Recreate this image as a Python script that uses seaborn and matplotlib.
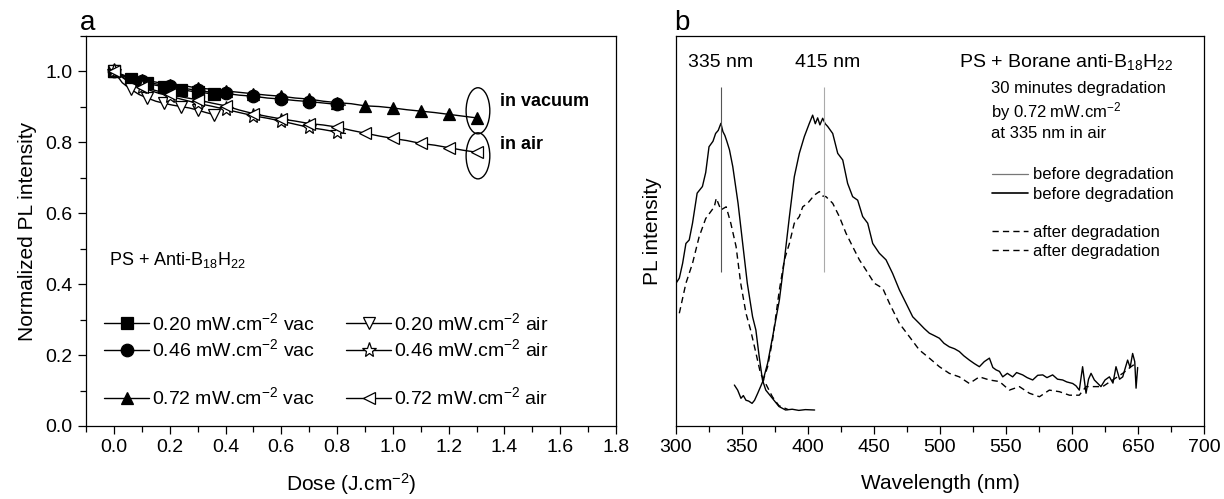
import numpy as np
import pandas as pd
import matplotlib
matplotlib.use("Agg")
import matplotlib.pyplot as plt
from matplotlib.lines import Line2D
from matplotlib.patches import Ellipse
import seaborn as sns

# ---------------- data : panel a ----------------
dose_020 = [0.00, 0.03, 0.06, 0.09, 0.12, 0.15, 0.18, 0.21, 0.24, 0.27, 0.30, 0.33, 0.36]
vac_020 = [1.000, 0.988, 0.978, 0.971, 0.966, 0.961, 0.957, 0.953, 0.949, 0.945, 0.942, 0.939, 0.936]
air_020 = [1.000, 0.968, 0.950, 0.935, 0.925, 0.916, 0.910, 0.905, 0.901, 0.897, 0.891, 0.884, 0.878]

dose_046 = [0.00, 0.05, 0.10, 0.15, 0.20, 0.25, 0.30, 0.35, 0.40, 0.45, 0.50, 0.55, 0.60,
            0.65, 0.70, 0.75, 0.80, 0.83]
vac_046 = [1.000, 0.983, 0.973, 0.965, 0.958, 0.952, 0.947, 0.941, 0.938, 0.933, 0.930, 0.925,
           0.922, 0.918, 0.915, 0.911, 0.907, 0.905]
air_046 = [1.000, 0.972, 0.955, 0.941, 0.930, 0.920, 0.910, 0.902, 0.893, 0.884, 0.875, 0.868,
           0.860, 0.851, 0.842, 0.836, 0.829, 0.825]

dose_072 = [0.00, 0.05, 0.10, 0.15, 0.20, 0.25, 0.30, 0.35, 0.40, 0.45, 0.50, 0.55, 0.60, 0.65,
            0.70, 0.75, 0.80, 0.85, 0.90, 0.95, 1.00, 1.05, 1.10, 1.15, 1.20, 1.25, 1.30]
vac_072 = [1.000, 0.985, 0.976, 0.970, 0.962, 0.960, 0.953, 0.950, 0.945, 0.941, 0.937, 0.933,
           0.930, 0.925, 0.922, 0.916, 0.912, 0.909, 0.903, 0.901, 0.897, 0.892, 0.888, 0.884,
           0.879, 0.874, 0.869]
air_072 = [1.000, 0.975, 0.957, 0.946, 0.936, 0.927, 0.920, 0.911, 0.903, 0.891, 0.881, 0.873,
           0.866, 0.860, 0.853, 0.849, 0.843, 0.834, 0.826, 0.818, 0.811, 0.805, 0.797, 0.792,
           0.785, 0.778, 0.772]

labels_a = ["0.20 mW.cm$^{-2}$ vac", "0.46 mW.cm$^{-2}$ vac", "0.72 mW.cm$^{-2}$ vac",
            "0.20 mW.cm$^{-2}$ air", "0.46 mW.cm$^{-2}$ air", "0.72 mW.cm$^{-2}$ air"]

# ---------------- data : panel b ----------------
exc_before_wl = [300, 302.5, 305, 307.5, 310, 312.5, 316, 320, 322.5, 325, 328, 330, 332, 334,
                 335.5, 337, 338.5, 340.5, 343, 347, 350.5, 354, 358, 360.5, 363, 365.5, 368,
                 373, 378, 383, 388, 393, 398, 405]
exc_before = [0.366, 0.379, 0.417, 0.468, 0.477, 0.520, 0.597, 0.614, 0.650, 0.716, 0.730,
              0.750, 0.758, 0.776, 0.755, 0.745, 0.730, 0.708, 0.665, 0.571, 0.468, 0.366,
              0.280, 0.246, 0.178, 0.118, 0.092, 0.071, 0.050, 0.041, 0.043, 0.040, 0.042, 0.041]

exc_after_wl = [302.5, 307.5, 312.5, 317.5, 322.5, 329, 330.5, 334, 338, 341.5, 345.5, 349,
                353, 356.5, 360, 364, 366.5, 373, 378, 385]
exc_after = [0.289, 0.366, 0.417, 0.485, 0.532, 0.562, 0.584, 0.554, 0.562, 0.520, 0.460,
             0.366, 0.289, 0.246, 0.195, 0.135, 0.118, 0.075, 0.052, 0.042]

em_before_wl = [344.2, 346.7, 349.2, 351, 353, 355, 357.6, 359.5, 361.9, 365.7, 369.4, 373.2,
                378.3, 382.1, 385.9, 389.6, 393.4, 397.2, 401, 403.5, 405.5, 407.3, 409, 411.1,
                413, 414.9, 418.7, 422.5, 426.3, 430, 433.8, 437.6, 441.4, 445.2, 449, 454,
                459.1, 464.1, 469.2, 474.2, 479.3, 484.3, 488, 491.9, 495.5, 499.5, 503, 507,
                511, 514.6, 518, 522.2, 526, 529.8, 533.5, 537.4, 540, 542.4, 545, 547.5, 551,
                555, 558, 562.6, 566, 570.2, 574, 577.8, 581, 585.3, 589, 592.9, 596, 600.5,
                603, 605.5, 608, 610.6, 612.5, 614.4, 616.9, 621.9, 625, 628.3, 631, 633.3,
                636, 638.4, 640, 642.1, 644, 645.9, 647.5, 648.5, 649.7]
em_before = [0.105, 0.092, 0.071, 0.078, 0.066, 0.064, 0.058, 0.066, 0.084, 0.114, 0.161, 0.229,
             0.323, 0.426, 0.537, 0.639, 0.699, 0.742, 0.776, 0.797, 0.775, 0.790, 0.772, 0.789,
             0.775, 0.768, 0.750, 0.699, 0.682, 0.622, 0.588, 0.579, 0.537, 0.520, 0.468, 0.443,
             0.426, 0.391, 0.349, 0.315, 0.280, 0.263, 0.250, 0.238, 0.232, 0.225, 0.212, 0.203,
             0.198, 0.191, 0.180, 0.169, 0.160, 0.152, 0.165, 0.174, 0.150, 0.144, 0.140, 0.126,
             0.135, 0.126, 0.137, 0.131, 0.124, 0.118, 0.130, 0.131, 0.124, 0.131, 0.120, 0.118,
             0.113, 0.109, 0.103, 0.092, 0.152, 0.084, 0.120, 0.135, 0.118, 0.101, 0.118, 0.126,
             0.110, 0.152, 0.120, 0.126, 0.145, 0.169, 0.150, 0.186, 0.165, 0.097, 0.150]

em_after_wl = [365.7, 369.4, 373.2, 378.3, 382.1, 385.9, 389.6, 393.4, 396, 399.7, 404.8, 408.6,
               411, 413.6, 418.7, 423.7, 428.8, 433.8, 438.9, 443.9, 450.2, 456.6, 461.6, 469.2,
               476.8, 484.3, 491.9, 499.5, 507, 514.6, 522.2, 529.8, 537.4, 545, 552.5, 560.1,
               567.7, 575.3, 582.8, 590.4, 598, 605.5, 610.6, 623.2, 630.8, 638.4, 644.7, 648.5]
em_after = [0.114, 0.152, 0.222, 0.349, 0.426, 0.468, 0.520, 0.537, 0.562, 0.571, 0.592, 0.601,
            0.590, 0.588, 0.571, 0.537, 0.494, 0.460, 0.426, 0.400, 0.366, 0.353, 0.315, 0.263,
            0.229, 0.195, 0.174, 0.152, 0.135, 0.126, 0.109, 0.126, 0.118, 0.114, 0.092, 0.101,
            0.084, 0.075, 0.092, 0.088, 0.079, 0.079, 0.101, 0.101, 0.118, 0.135, 0.152, 0.161]

peak_lines_wl = [334, 412]
peak_labels = ["335 nm", "415 nm"]
peak_label_wl = [334, 415]

# ---------------- style ----------------
sns.set_theme(style="ticks")
plt.rcParams["font.family"] = ["Liberation Sans", "DejaVu Sans"]
plt.rcParams["mathtext.default"] = "regular"
plt.rcParams["axes.linewidth"] = 0.9
plt.rcParams["axes.edgecolor"] = "black"
plt.rcParams["xtick.color"] = "black"
plt.rcParams["ytick.color"] = "black"
plt.rcParams["text.color"] = "black"
plt.rcParams["axes.labelcolor"] = "black"

fig = plt.figure(figsize=(12.24, 4.99), dpi=100)
axA = fig.add_axes([0.0703, 0.1463, 0.433, 0.7816])
axB = fig.add_axes([0.5523, 0.1463, 0.4314, 0.7816])

TICK = 14
for ax in (axA, axB):
    for s in ax.spines.values():
        s.set_visible(True)
        s.set_linewidth(0.9)
    ax.tick_params(which="major", direction="out", length=6, width=0.9, labelsize=TICK,
                   top=False, right=False)
    ax.tick_params(which="minor", direction="out", length=4, width=0.9, top=False, right=False)

# ---------------- panel a ----------------
series = [
    (dose_020, vac_020, "s", "black"),
    (dose_046, vac_046, "o", "black"),
    (dose_072, vac_072, "^", "black"),
    (dose_020, air_020, "v", "white"),
    (dose_046, air_046, "*", "white"),
    (dose_072, air_072, "<", "white"),
]
for x, y, m, fc in series:
    df = pd.DataFrame({"dose": x, "pl": y})
    sns.lineplot(data=df, x="dose", y="pl", ax=axA, color="black", lw=1.0, marker=m,
                 markersize=9 if m != "*" else 11, markerfacecolor=fc, markeredgecolor="black",
                 markeredgewidth=0.9, markevery=2, sort=False, errorbar=None)

axA.set_xlim(-0.1, 1.8)
axA.set_ylim(0.0, 1.1)
axA.set_xticks(np.arange(0, 1.81, 0.2))
axA.set_xticks(np.arange(-0.1, 1.81, 0.1), minor=True)
axA.set_yticks(np.arange(0, 1.01, 0.2))
axA.set_yticks(np.arange(0, 1.11, 0.1), minor=True)
axA.xaxis.set_major_formatter(matplotlib.ticker.FormatStrFormatter("%.1f"))
axA.yaxis.set_major_formatter(matplotlib.ticker.FormatStrFormatter("%.1f"))
axA.set_xlabel("Dose (J.cm$^{-2}$)", fontsize=15, labelpad=11)
axA.set_ylabel("Normalized PL intensity", fontsize=15, labelpad=6)

# ellipses around final points
axA.add_patch(Ellipse((dose_072[-1] + 0.005, vac_072[-1] + 0.02), 0.085, 0.13, fill=False,
                      edgecolor="black", lw=1.0))
axA.add_patch(Ellipse((dose_072[-1] + 0.005, air_072[-1] - 0.01), 0.085, 0.13, fill=False,
                      edgecolor="black", lw=1.0))
axA.text(1.385, vac_072[-1] + 0.047, "in vacuum", fontsize=13, fontweight="bold",
         va="center", ha="left")
axA.text(1.385, air_072[-1] + 0.022, "in air", fontsize=13, fontweight="bold",
         va="center", ha="left")

axA.text(0.043, 0.426, "PS + Anti-B$_{18}$H$_{22}$", transform=axA.transAxes, fontsize=13,
         va="center", ha="left")

def h(m, fc, ms=9):
    return Line2D([], [], color="black", lw=1.0, marker=m, markersize=ms, markerfacecolor=fc,
                  markeredgecolor="black", markeredgewidth=0.9)

blank = Line2D([], [], alpha=0)
handles = [h("s", "black"), h("o", "black"), blank, h("^", "black"),
           h("v", "white"), h("*", "white", 11), blank, h("<", "white")]
labs = [labels_a[0], labels_a[1], "", labels_a[2], labels_a[3], labels_a[4], "", labels_a[5]]
axA.legend(handles, labs, ncol=2, frameon=False, fontsize=14, loc="lower left",
           bbox_to_anchor=(0.02, 0.025), handlelength=2.3, handletextpad=0.15,
           columnspacing=1.6, labelspacing=0.22, borderaxespad=0.0, numpoints=1)

axA.text(-0.012, 1.0, "a", transform=axA.transAxes, fontsize=20, ha="left", va="bottom")

# ---------------- panel b ----------------
dash = (0, (4.5, 3.0))
sns.lineplot(x=exc_before_wl, y=exc_before, ax=axB, color="black", lw=1.0, sort=False,
             errorbar=None)
sns.lineplot(x=exc_after_wl, y=exc_after, ax=axB, color="black", lw=1.0, ls=dash, sort=False,
             errorbar=None)
sns.lineplot(x=em_before_wl, y=em_before, ax=axB, color="black", lw=1.0, sort=False,
             errorbar=None)
sns.lineplot(x=em_after_wl, y=em_after, ax=axB, color="black", lw=1.0, ls=dash, sort=False,
             errorbar=None)

axB.vlines(peak_lines_wl[0], 0.396, 0.87, color="#555555", lw=0.8)
axB.vlines(peak_lines_wl[1], 0.396, 0.87, color="#aaaaaa", lw=0.8)
for wl, lab in zip(peak_label_wl, peak_labels):
    axB.text(wl, 0.932, lab, fontsize=14, ha="center", va="center")

axB.set_xlim(300, 700)
axB.set_ylim(0, 1)
axB.set_xticks(np.arange(300, 701, 50))
axB.set_xticks(np.arange(300, 701, 25), minor=True)
axB.set_yticks([])
axB.set_xlabel("Wavelength (nm)", fontsize=15, labelpad=13)
axB.set_ylabel("PL intensity", fontsize=15, labelpad=10)

axB.text(514.5, 0.932, "PS + Borane anti-B$_{18}$H$_{22}$", fontsize=14, ha="left", va="center")
axB.text(538.5, 0.866, "30 minutes degradation", fontsize=12, ha="left", va="center")
axB.text(538.5, 0.806, "by 0.72 mW.cm$^{-2}$", fontsize=12, ha="left", va="center")
axB.text(538.5, 0.750, "at 335 nm in air", fontsize=12, ha="left", va="center")

hb = [Line2D([], [], color="#777777", lw=0.9),
      Line2D([], [], color="black", lw=1.2),
      Line2D([], [], alpha=0),
      Line2D([], [], color="black", lw=1.0, ls=dash),
      Line2D([], [], color="black", lw=1.0, ls=dash)]
lb = ["before degradation", "before degradation", "", "after degradation", "after degradation"]
axB.legend(hb, lb, frameon=False, fontsize=12, loc="upper left",
           bbox_to_anchor=(0.585, 0.68), handlelength=2.2, handletextpad=0.3,
           labelspacing=0.25, borderaxespad=0.0)

axB.text(-0.003, 1.0, "b", transform=axB.transAxes, fontsize=20, ha="left", va="bottom")

fig.savefig("out.png", dpi=100)
